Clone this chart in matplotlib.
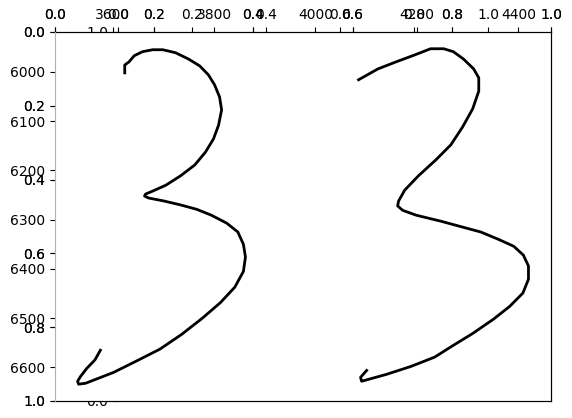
import matplotlib
matplotlib.use('Agg')
import matplotlib.pyplot as plt

# left "3" curve (data units)
left_x = [3624, 3624, 3632, 3643, 3659, 3679, 3699, 3724, 3750, 3772, 3789, 3801,
          3811, 3815, 3809, 3799, 3783, 3762, 3734, 3705, 3679, 3665, 3663, 3671,
          3701, 3734, 3766, 3795, 3825, 3847, 3858, 3862, 3858, 3841, 3813, 3777,
          3736, 3693, 3645, 3602, 3572, 3547, 3533, 3531, 3537, 3549, 3565, 3576]
left_y = [6002, 5986, 5980, 5967, 5959, 5955, 5955, 5961, 5974, 5988, 6006, 6026,
          6051, 6077, 6108, 6136, 6163, 6189, 6211, 6230, 6242, 6248, 6252, 6256,
          6262, 6270, 6279, 6291, 6307, 6325, 6350, 6376, 6405, 6437, 6468, 6500,
          6533, 6563, 6588, 6610, 6622, 6632, 6634, 6628, 6618, 6602, 6585, 6565]

# right "3" curve (data units)
right_x = [4085, 4123, 4158, 4192, 4227, 4253, 4272, 4292, 4312, 4322, 4322, 4310,
           4290, 4267, 4237, 4203, 4176, 4164, 4162, 4172, 4199, 4247, 4290, 4326,
           4361, 4391, 4410, 4420, 4420, 4409, 4383, 4351, 4310, 4272, 4235, 4188,
           4140, 4105, 4091, 4089, 4101]
right_y = [6016, 5994, 5980, 5967, 5953, 5953, 5959, 5974, 5994, 6012, 6039, 6075,
           6112, 6148, 6179, 6211, 6240, 6262, 6272, 6281, 6291, 6303, 6315, 6325,
           6340, 6354, 6372, 6394, 6421, 6449, 6476, 6502, 6531, 6555, 6579, 6598,
           6614, 6624, 6628, 6620, 6606]

fig = plt.figure(figsize=(5.72, 4.18), dpi=100)
fig.patch.set_facecolor('white')

main_rect = [0.0962, 0.0407, 0.8671, 0.8828]
inner_rect = [0.2063, 0.0407, 0.6469, 0.8828]

# narrower unit axes, mostly hidden behind the main one
ax3 = fig.add_axes(inner_rect, zorder=0)
ax3.xaxis.tick_top()
for s in ax3.spines.values():
    s.set_visible(False)

# main unit axes (drawn twice so its labels come out darker)
ax1 = fig.add_axes(main_rect, zorder=1)
ax1b = fig.add_axes(main_rect, zorder=2)
ax1b.set_facecolor('none')
for a in (ax1, ax1b):
    a.set_xlim(0, 1)
    a.set_ylim(1, 0)
    a.xaxis.tick_top()
    a.spines['left'].set_visible(False)

# data axes on top
ax2 = fig.add_axes(main_rect, zorder=3)
ax2.set_facecolor('none')
ax2.plot(left_x, left_y, color='black', lw=2)
ax2.plot(right_x, right_y, color='black', lw=2)
ax2.invert_yaxis()
ax2.xaxis.tick_top()
for side in ('top', 'right', 'bottom'):
    ax2.spines[side].set_visible(False)
ax2.spines['left'].set_color('#b0b0b0')

plt.savefig('out.png', dpi=100)
plt.close()
